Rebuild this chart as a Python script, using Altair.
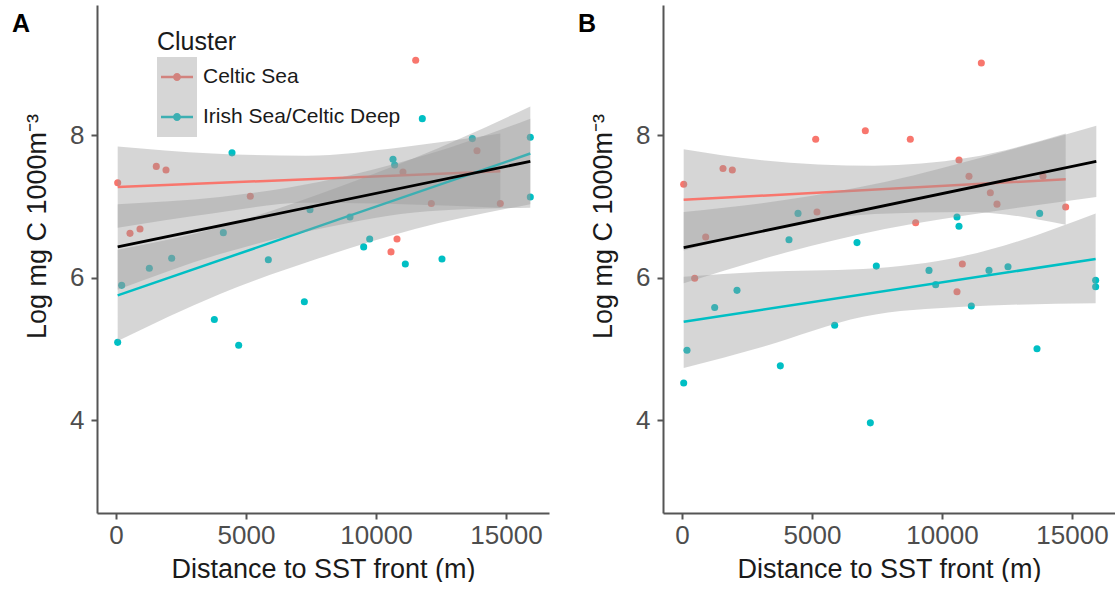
import altair as alt
import pandas as pd

CLUSTERS = ["Celtic Sea", "Irish Sea/Celtic Deep"]
COLORS = ["#F8766D", "#00BFC4"]
panel_labels = ["A", "B"]
x_ticks = [0, 5000, 10000, 15000]
y_ticks = [4, 6, 8]
x_title = "Distance to SST front (m)"
y_title = "Log mg C 1000m\u207b\u00b3"

# ---------------- Panel A points ----------------
a_red_x = [65, 1550, 1923, 5165, 538, 923, 11527, 13885, 12128, 14781, 11038, 10808, 10577]
a_red_y = [7.33, 7.56, 7.51, 7.14, 6.62, 6.68, 9.05, 7.78, 7.04, 7.04, 7.48, 6.54, 6.36]
a_teal_x = [4462, 11781, 13705, 15935, 15935, 10654, 10718, 7462, 4128, 2141, 1282,
            218, 5859, 9000, 9757, 9526, 11128, 12538, 7244, 3782, 4718, 64]
a_teal_y = [7.75, 8.23, 7.95, 7.97, 7.13, 7.66, 7.58, 6.95, 6.63, 6.27, 6.13,
            5.89, 6.25, 6.85, 6.54, 6.43, 6.19, 6.26, 5.66, 5.41, 5.05, 5.09]

# ---------------- Panel B points ----------------
b_red_x = [65, 1577, 1935, 5142, 7051, 5192, 911, 488, 8781, 11513, 10654, 11038,
           11859, 12115, 14757, 8987, 10782, 10577, 13885]
b_red_y = [7.31, 7.53, 7.51, 7.94, 8.06, 6.92, 6.57, 5.99, 7.94, 9.01, 7.65, 7.42,
           7.19, 7.03, 6.99, 6.77, 6.19, 5.80, 7.42]
b_teal_x = [4462, 4115, 6731, 7474, 9500, 10577, 10654, 11808, 12538, 13756, 15910,
            15910, 2115, 9757, 1257, 192, 65, 3782, 5872, 7244, 11128, 13654]
b_teal_y = [6.90, 6.53, 6.49, 6.16, 6.10, 6.85, 6.72, 6.10, 6.15, 6.90, 5.96,
            5.87, 5.82, 5.90, 5.58, 4.98, 4.52, 4.76, 5.33, 3.96, 5.60, 5.00]

# ---------------- fitted lines (end points) ----------------
a_fit_red_x, a_fit_red_y = [65, 14781], [7.27, 7.49]
a_fit_teal_x, a_fit_teal_y = [64, 15935], [5.75, 7.74]
a_fit_all_x, a_fit_all_y = [65, 15935], [6.43, 7.63]
b_fit_red_x, b_fit_red_y = [65, 14757], [7.09, 7.38]
b_fit_teal_x, b_fit_teal_y = [65, 15910], [5.38, 6.26]
b_fit_all_x, b_fit_all_y = [65, 15935], [6.42, 7.63]

# ---------------- confidence bands (read at a few x positions) ----------------
a_band_red_x = [65, 3700, 7300, 11000, 14781]
a_band_red_lo = [6.70, 6.90, 7.05, 7.03, 6.98]
a_band_red_hi = [7.84, 7.74, 7.71, 7.83, 8.02]
a_band_teal_x = [64, 4000, 7800, 11500, 15935]
a_band_teal_lo = [5.11, 5.77, 6.27, 6.68, 7.03]
a_band_teal_hi = [6.39, 6.71, 7.17, 7.68, 8.40]
a_band_all_x = [65, 4000, 7800, 12000, 15935]
a_band_all_lo = [5.83, 6.33, 6.68, 6.93, 6.98]
a_band_all_hi = [7.03, 7.13, 7.34, 7.73, 8.23]

b_band_red_x = [65, 3000, 7400, 11000, 14757]
b_band_red_lo = [6.38, 6.65, 6.89, 6.92, 6.74]
b_band_red_hi = [7.80, 7.65, 7.57, 7.68, 8.02]
b_band_teal_x = [65, 3115, 6962, 10808, 15910]
b_band_teal_lo = [4.73, 5.03, 5.45, 5.59, 5.64]
b_band_teal_hi = [6.01, 6.08, 6.12, 6.30, 6.90]
b_band_all_x = [65, 4000, 7800, 12000, 15935]
b_band_all_lo = [5.92, 6.35, 6.68, 6.93, 7.13]
b_band_all_hi = [6.92, 7.09, 7.34, 7.73, 8.13]

# legend key: a short line with a dot (the two leading moves pad the key box)
LEGEND_PATH = ("M-1,-1M1,1M-0.8,-0.06H0.8V0.06H-0.8Z "
               "M0.2,0A0.2,0.2,0,1,1,-0.2,0A0.2,0.2,0,1,1,0.2,0Z")

XS = alt.Scale(domain=[-731, 16654], nice=False, zero=False)
YS = alt.Scale(domain=[2.695, 9.825], nice=False, zero=False)
XA = alt.Axis(values=x_ticks, format="d", title=x_title)
YA = alt.Axis(values=y_ticks, format="d", title=y_title, titleY=221)


def X(field="x"):
    return alt.X(f"{field}:Q", scale=XS, axis=XA, title=x_title)


def Y(field="y"):
    return alt.Y(f"{field}:Q", scale=YS, axis=YA, title=y_title)


def panel(rx, ry, tx, ty, fits, bands, label, show_legend):
    pts = pd.DataFrame({
        "x": rx + tx,
        "y": ry + ty,
        "Cluster": [CLUSTERS[0]] * len(rx) + [CLUSTERS[1]] * len(tx),
    })
    if show_legend:
        leg = alt.Legend(orient="none", legendX=60, legendY=25, title="Cluster",
                         titleFontSize=25, titleFontWeight="normal", titleColor="#1a1a1a",
                         titleFont="Liberation Sans", titlePadding=2, padding=0,
                         labelFontSize=21, labelColor="#1a1a1a", labelFont="Liberation Sans",
                         labelLimit=500, labelOffset=6, symbolType=LEGEND_PATH,
                         symbolSize=1600, symbolStrokeWidth=0, rowPadding=0)
        gleg = alt.Legend(orient="none", legendX=60, legendY=52, title=None, padding=0,
                          labelOpacity=0, labelFontSize=21, labelOffset=6, labelLimit=500,
                          symbolType="square", symbolSize=1600, symbolOpacity=0.4,
                          symbolStrokeWidth=0, rowPadding=0)
    else:
        leg = None
        gleg = None

    points = alt.Chart(pts).mark_circle(size=50, opacity=1).encode(
        x=X(), y=Y(),
        color=alt.Color("Cluster:N", scale=alt.Scale(domain=CLUSTERS, range=COLORS),
                        legend=leg),
    )

    layers = [points]
    (rbx, rlo, rhi), (tbx, tlo, thi), (abx, alo, ahi) = bands
    (rfx, rfy), (tfx, tfy), (afx, afy) = fits

    for (bx, lo, hi, key), (fx, fy, col) in [
        ((rbx, rlo, rhi, CLUSTERS[0]), (rfx, rfy, COLORS[0])),
        ((tbx, tlo, thi, CLUSTERS[1]), (tfx, tfy, COLORS[1])),
    ]:
        bdf = pd.DataFrame({"x": bx, "lo": lo, "hi": hi, "Key": key})
        band = alt.Chart(bdf).mark_area(opacity=0.4, interpolate="monotone").encode(
            x=X(), y=Y("lo"), y2="hi:Q",
            fill=alt.Fill("Key:N", scale=alt.Scale(range=["#999999", "#999999"]),
                          legend=gleg),
        )
        fdf = pd.DataFrame({"x": fx, "y": fy})
        line = alt.Chart(fdf).mark_line(color=col, strokeWidth=2.5).encode(x=X(), y=Y())
        layers += [band, line]

    adf = pd.DataFrame({"x": abx, "lo": alo, "hi": ahi})
    aband = alt.Chart(adf).mark_area(color="#999999", opacity=0.4,
                                     interpolate="monotone").encode(
        x=X(), y=Y("lo"), y2="hi:Q")
    afdf = pd.DataFrame({"x": afx, "y": afy})
    aline = alt.Chart(afdf).mark_line(color="black", strokeWidth=2.8).encode(x=X(), y=Y())
    layers += [aband, aline]

    tag = alt.Chart(pd.DataFrame({"t": [label]})).mark_text(
        align="left", baseline="alphabetic", fontSize=25, fontWeight="bold",
        font="Liberation Sans", color="black").encode(
        text="t:N", x=alt.value(-85), y=alt.value(27))
    layers.append(tag)

    return alt.layer(*layers).properties(width=452, height=508)


pA = panel(a_red_x, a_red_y, a_teal_x, a_teal_y,
           [(a_fit_red_x, a_fit_red_y), (a_fit_teal_x, a_fit_teal_y), (a_fit_all_x, a_fit_all_y)],
           [(a_band_red_x, a_band_red_lo, a_band_red_hi),
            (a_band_teal_x, a_band_teal_lo, a_band_teal_hi),
            (a_band_all_x, a_band_all_lo, a_band_all_hi)],
           panel_labels[0], True)
pB = panel(b_red_x, b_red_y, b_teal_x, b_teal_y,
           [(b_fit_red_x, b_fit_red_y), (b_fit_teal_x, b_fit_teal_y), (b_fit_all_x, b_fit_all_y)],
           [(b_band_red_x, b_band_red_lo, b_band_red_hi),
            (b_band_teal_x, b_band_teal_lo, b_band_teal_hi),
            (b_band_all_x, b_band_all_lo, b_band_all_hi)],
           panel_labels[1], False)

chart = alt.hconcat(pA, pB, spacing=29).resolve_scale(
    color="independent", fill="independent"
).resolve_legend(color="independent", fill="independent").properties(
    padding={"left": 12, "top": 5, "right": 0, "bottom": 0}
).configure_view(stroke=None).configure_axis(
    grid=False,
    domainColor="#555555", domainWidth=2,
    tickColor="#555555", tickWidth=2, tickSize=6,
    labelColor="#4d4d4d", labelFontSize=26, labelFont="Liberation Sans",
    titleColor="#1a1a1a", titleFontSize=27, titleFont="Liberation Sans",
    titleFontWeight="normal",
).configure_axisX(labelPadding=3, titlePadding=8).configure_axisY(
    labelPadding=7, titlePadding=18)

chart.save("out.html", embed_options={"renderer": "svg", "actions": False})
